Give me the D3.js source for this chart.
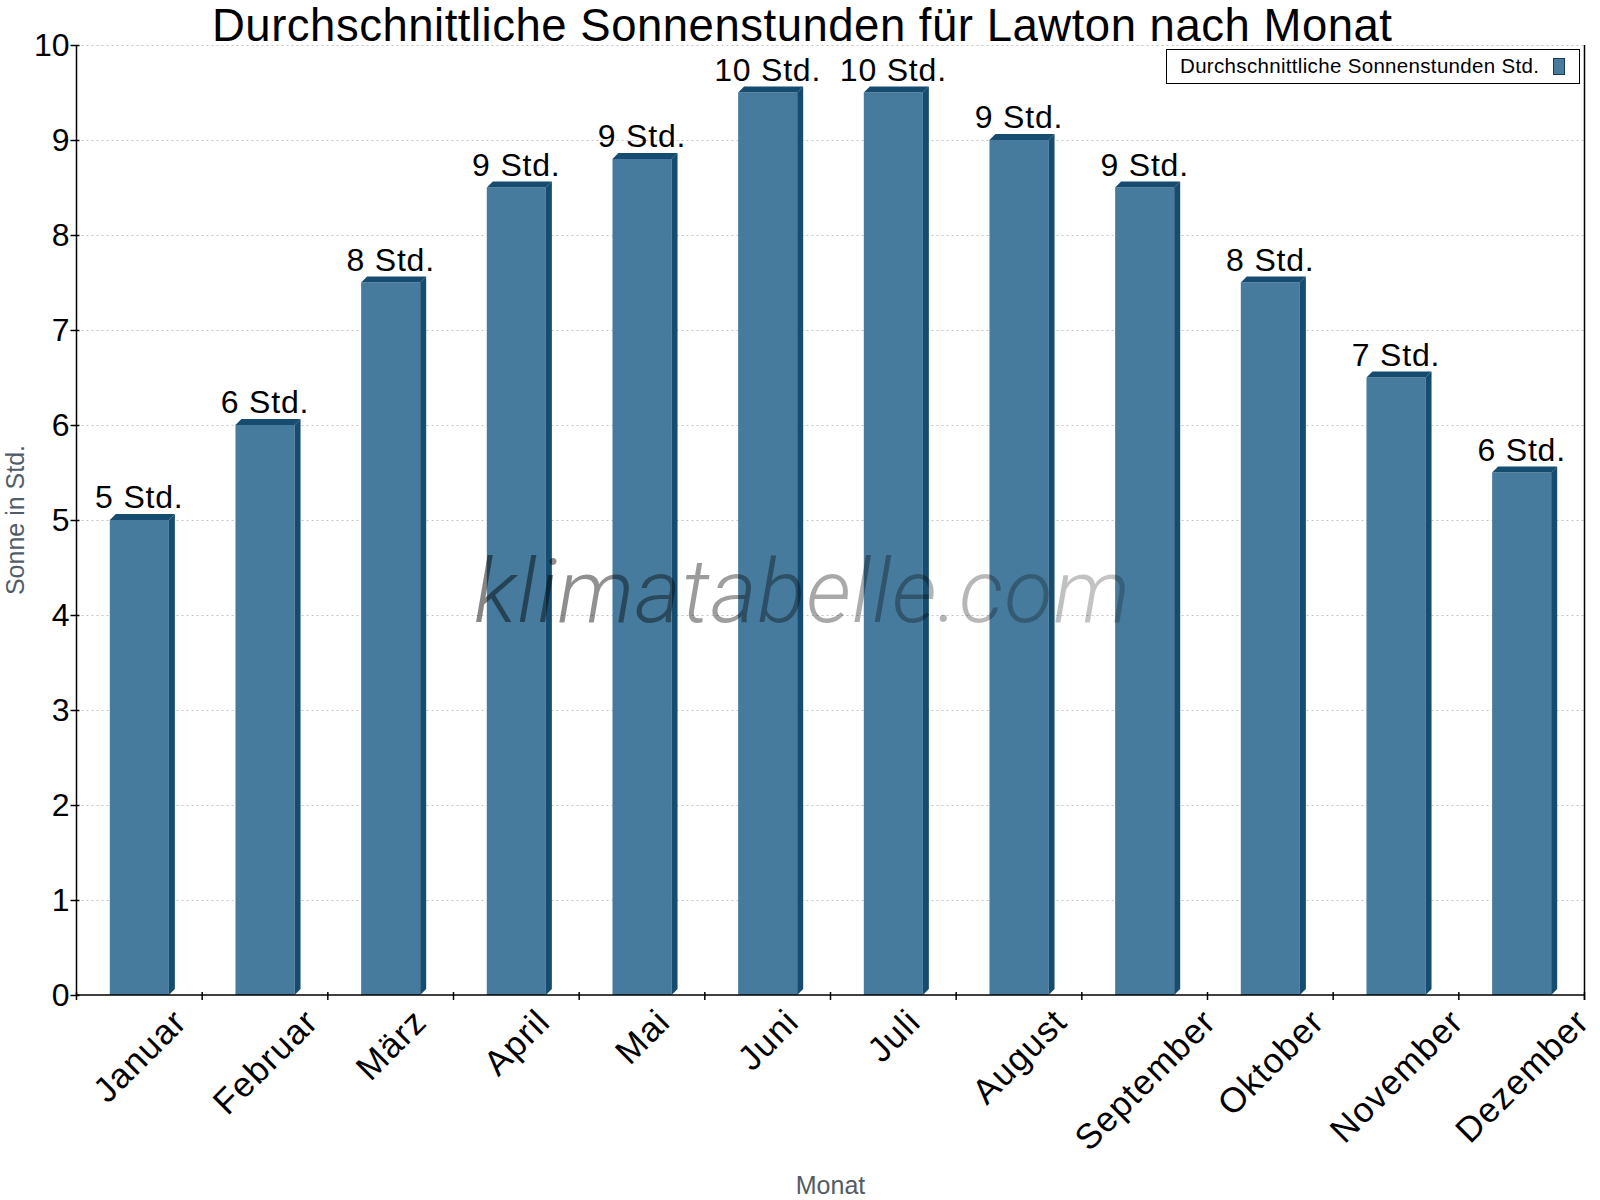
<!DOCTYPE html>
<html>
<head>
<meta charset="utf-8">
<script src="https://cdn.jsdelivr.net/npm/d3@7"></script>
<style>
  html, body { margin: 0; padding: 0; background: #ffffff; }
  svg { display: block; }
  text { font-family: "Liberation Sans", Arial, sans-serif; }
</style>
</head>
<body>
<svg id="chart" width="1600" height="1200"></svg>
<script>
const months = ["Januar","Februar","März","April","Mai","Juni","Juli","August","September","Oktober","November","Dezember"];
const sunHours = [5, 6, 7.5, 8.5, 8.8, 9.5, 9.5, 9.0, 8.5, 7.5, 6.5, 5.5];
const valueLabels = ["5 Std.","6 Std.","8 Std.","9 Std.","9 Std.","10 Std.","10 Std.","9 Std.","9 Std.","8 Std.","7 Std.","6 Std."];
const yTicks = [0,1,2,3,4,5,6,7,8,9,10];
const titleText = "Durchschnittliche Sonnenstunden für Lawton nach Monat";
const legendText = "Durchschnittliche Sonnenstunden Std.";
const yTitle = "Sonne in Std.";
const xTitle = "Monat";
const watermark = "klimatabelle.com";

(function () {
const svg = d3.select("#chart");
const pLeft = 76.5, pRight = 1584.5, pTop = 45, pBottom = 995;
const frontColor = "#467b9d", darkColor = "#164c6f";
const depth = 6;

const x = d3.scaleBand().domain(months).range([pLeft, pRight]).paddingInner(0).paddingOuter(0);
const y = d3.scaleLinear().domain([0, 10]).range([pBottom, pTop]);

// gridlines
svg.append("g").selectAll("line").data(yTicks.filter(d => d > 0)).join("line")
  .attr("x1", pLeft).attr("x2", pRight)
  .attr("y1", d => Math.round(y(d)) + 0.5).attr("y2", d => Math.round(y(d)) + 0.5)
  .attr("stroke", "#c4c4c4").attr("stroke-width", 1).attr("stroke-dasharray", "2,3");

// bars
const bw = x.bandwidth() * 0.47;
const bars = svg.append("g").selectAll("g").data(months).join("g");
bars.each(function(m, i) {
  const g = d3.select(this);
  const cx = x(m) + x.bandwidth() / 2;
  const x0 = cx - bw / 2, x1 = cx + bw / 2;
  const yt = y(sunHours[i]), yb = y(0);
  g.append("rect").attr("x", x0).attr("y", yt).attr("width", bw).attr("height", yb - yt).attr("fill", frontColor);
  g.append("polygon").attr("points", [[x0, yt], [x0 + depth, yt - depth], [x1 + depth, yt - depth], [x1, yt]].map(p => p.join(",")).join(" ")).attr("fill", darkColor);
  g.append("polygon").attr("points", [[x1, yt], [x1 + depth, yt - depth], [x1 + depth, yb - depth], [x1, yb]].map(p => p.join(",")).join(" ")).attr("fill", darkColor);
  g.append("text").attr("x", cx).attr("y", yt - 12).attr("text-anchor", "middle")
    .attr("font-size", 32).attr("letter-spacing", 0.8).attr("fill", "#000").text(valueLabels[i]);
});

// watermark
const defs = svg.append("defs");
const grad = defs.append("linearGradient").attr("id", "wm").attr("x1", "0%").attr("x2", "100%").attr("y1", "0%").attr("y2", "0%");
grad.append("stop").attr("offset", "0%").attr("stop-color", "#000").attr("stop-opacity", 0.48);
grad.append("stop").attr("offset", "100%").attr("stop-color", "#000").attr("stop-opacity", 0.22);
svg.append("text").attr("x", 802).attr("y", 622).attr("text-anchor", "middle")
  .attr("font-size", 89).attr("font-style", "italic").attr("font-weight", 300)
  .style("font-family", "Roboto, 'Liberation Sans', sans-serif")
  .attr("textLength", 656).attr("lengthAdjust", "spacing")
  .attr("fill", "url(#wm)").text(watermark);

// y axis
const yAxis = svg.append("g").attr("transform", `translate(${pLeft},0)`)
  .call(d3.axisLeft(y).tickValues(yTicks).tickSize(6).tickSizeOuter(0).tickFormat(d3.format("d")));
yAxis.select(".domain").attr("stroke", "#000").attr("stroke-width", 1.5).attr("d", `M0,${pTop}V${pBottom}`);
yAxis.selectAll(".tick line").attr("x1", 3).attr("x2", -6).attr("stroke", "#000").attr("stroke-width", 1.5);
yAxis.selectAll(".tick text").attr("x", -7).attr("font-size", 32).attr("fill", "#000")
  .style("font-family", "'Liberation Sans', Arial, sans-serif");

// right border
svg.append("line").attr("x1", pRight).attr("x2", pRight).attr("y1", pTop).attr("y2", pBottom + 5)
  .attr("stroke", "#000").attr("stroke-width", 1.5);

// x axis line and boundary ticks
svg.append("line").attr("x1", pLeft).attr("x2", pRight).attr("y1", pBottom).attr("y2", pBottom)
  .attr("stroke", "#000").attr("stroke-width", 1.5);
const boundaries = months.map(m => x(m)).concat([x.range()[1]]);
svg.append("g").selectAll("line").data(boundaries).join("line")
  .attr("x1", d => d).attr("x2", d => d).attr("y1", pBottom - 3).attr("y2", pBottom + 5)
  .attr("stroke", "#000").attr("stroke-width", 1.5);

// x labels rotated, bbox centred on band
const labelTop = 1006, xFont = 35;
const xl = svg.append("g");
months.forEach(m => {
  const cx = x(m) + x.bandwidth() / 2;
  const t = xl.append("text").attr("font-size", xFont).attr("letter-spacing", 1.2)
    .attr("text-anchor", "middle").attr("fill", "#000").text(m);
  const w = t.node().getComputedTextLength();
  const h = xFont * 0.72;
  const cy = labelTop + (w / 2 + h / 2) * Math.SQRT1_2;
  t.attr("x", cx).attr("y", cy).attr("dy", "0.36em")
    .attr("transform", `rotate(-45,${cx},${cy})`);
});

// titles
svg.append("text").attr("x", 802).attr("y", 41).attr("text-anchor", "middle")
  .attr("font-size", 45.5).attr("textLength", 1180).attr("lengthAdjust", "spacing")
  .attr("fill", "#000").text(titleText);
svg.append("text").attr("x", (pLeft + pRight) / 2).attr("y", 1194).attr("text-anchor", "middle")
  .attr("font-size", 25).attr("fill", "#525c66").text(xTitle);
svg.append("text").attr("transform", `translate(24,${(pTop + pBottom) / 2}) rotate(-90)`).attr("text-anchor", "middle")
  .attr("font-size", 25).attr("fill", "#525c66").text(yTitle);

// legend
const lg = svg.append("g");
lg.append("rect").attr("x", 1166.5).attr("y", 49.5).attr("width", 413).attr("height", 34)
  .attr("fill", "#fff").attr("stroke", "#000").attr("stroke-width", 1);
lg.append("text").attr("x", 1180).attr("y", 73).attr("font-size", 20.5)
  .attr("textLength", 359).attr("lengthAdjust", "spacing").attr("fill", "#000").text(legendText);
lg.append("rect").attr("x", 1553.5).attr("y", 58.5).attr("width", 11).attr("height", 16)
  .attr("fill", frontColor).attr("stroke", "#1a3a52").attr("stroke-width", 1);
})();
</script>
</body>
</html>
